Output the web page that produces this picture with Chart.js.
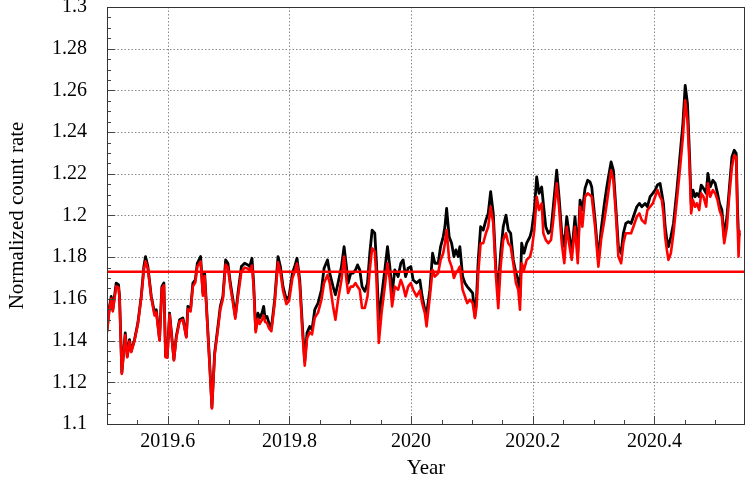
<!DOCTYPE html>
<html>
<head>
<meta charset="utf-8">
<script src="https://cdn.jsdelivr.net/npm/chart.js@4.4.1/dist/chart.umd.min.js"></script>
<style>
  html, body { margin: 0; padding: 0; background: #fff; }
  #wrap { width: 747px; height: 479px; position: relative; }
</style>
</head>
<body>
<div id="wrap"><canvas id="rate-chart"></canvas></div>
<script>
// 坐标轴范围
const xMin = 2019.5;
const xMax = 2020.549;
const yMin = 1.1;
const yMax = 1.3;
const xLabelStep = 0.2;
const yLabelStep = 0.02;

// 参考水平线
const refLevel = 1.173;

// 时间 (年)
const years = [
  2019.5000, 2019.5041, 2019.5069, 2019.5095, 2019.5151, 2019.5189, 2019.5206, 2019.5244, 2019.5300, 2019.5333,
  2019.5370, 2019.5398, 2019.5453, 2019.5507, 2019.5563, 2019.5606, 2019.5634, 2019.5672, 2019.5728, 2019.5782,
  2019.5810, 2019.5864, 2019.5902, 2019.5935, 2019.5963, 2019.5991, 2019.6029, 2019.6100, 2019.6139, 2019.6193,
  2019.6248, 2019.6304, 2019.6330, 2019.6374, 2019.6412, 2019.6452, 2019.6485, 2019.6539, 2019.6577, 2019.6605,
  2019.6633, 2019.6687, 2019.6725, 2019.6770,
  2019.6824, 2019.6863, 2019.6906, 2019.6951, 2019.6988, 2019.7028, 2019.7071, 2019.7110, 2019.7153, 2019.7209,
  2019.7263, 2019.7318, 2019.7346, 2019.7384, 2019.7411, 2019.7444, 2019.7482, 2019.7510, 2019.7548, 2019.7576,
  2019.7598, 2019.7630, 2019.7663, 2019.7703, 2019.7757, 2019.7812, 2019.7851, 2019.7894, 2019.7950, 2019.7993,
  2019.8049, 2019.8086, 2019.8124, 2019.8169, 2019.8213, 2019.8251, 2019.8289, 2019.8333, 2019.8371, 2019.8416,
  2019.8470,
  2019.8526, 2019.8569, 2019.8625, 2019.8662, 2019.8717, 2019.8756, 2019.8799, 2019.8855, 2019.8898, 2019.8937,
  2019.8964, 2019.9008, 2019.9046, 2019.9086, 2019.9119, 2019.9156, 2019.9194, 2019.9239, 2019.9283, 2019.9321,
  2019.9359, 2019.9403, 2019.9431, 2019.9469, 2019.9514, 2019.9568, 2019.9612, 2019.9650, 2019.9688, 2019.9732,
  2019.9787, 2019.9831, 2019.9869, 2019.9909, 2019.9951, 2019.9996, 2020.0034, 2020.0090, 2020.0144, 2020.0182,
  2020.0226,
  2020.0254, 2020.0309, 2020.0353, 2020.0391, 2020.0445, 2020.0485, 2020.0528, 2020.0556, 2020.0584, 2020.0626,
  2020.0666, 2020.0704, 2020.0737, 2020.0774, 2020.0802, 2020.0847, 2020.0885, 2020.0923, 2020.0967, 2020.1012,
  2020.1049, 2020.1077, 2020.1104, 2020.1143, 2020.1186, 2020.1230, 2020.1268, 2020.1308, 2020.1351, 2020.1395,
  2020.1433, 2020.1472, 2020.1515, 2020.1560, 2020.1598, 2020.1637, 2020.1680, 2020.1724, 2020.1762, 2020.1790,
  2020.1818, 2020.1856, 2020.1900, 2020.1955,
  2020.1983, 2020.2026, 2020.2065, 2020.2103, 2020.2147, 2020.2174, 2020.2214, 2020.2256, 2020.2301, 2020.2338,
  2020.2394, 2020.2432, 2020.2477, 2020.2519, 2020.2559, 2020.2597, 2020.2641, 2020.2695, 2020.2740, 2020.2778,
  2020.2816, 2020.2860, 2020.2904, 2020.2942, 2020.2970, 2020.3025, 2020.3079, 2020.3124, 2020.3178, 2020.3218,
  2020.3255, 2020.3288, 2020.3326, 2020.3366, 2020.3408, 2020.3453, 2020.3490, 2020.3530, 2020.3573, 2020.3617,
  2020.3655, 2020.3711, 2020.3754, 2020.3793, 2020.3848, 2020.3885, 2020.3930, 2020.3974, 2020.4012, 2020.4050,
  2020.4094, 2020.4122, 2020.4149, 2020.4177, 2020.4205, 2020.4231, 2020.4271, 2020.4314, 2020.4370, 2020.4424,
  2020.4469, 2020.4507, 2020.4544, 2020.4577, 2020.4605, 2020.4633, 2020.4671, 2020.4699, 2020.4737, 2020.4770,
  2020.4807, 2020.4852, 2020.4880, 2020.4918, 2020.4962, 2020.5000, 2020.5038, 2020.5071, 2020.5110, 2020.5148,
  2020.5193, 2020.5230, 2020.5275, 2020.5313, 2020.5346, 2020.5367, 2020.5384, 2020.5400
];

// 黑线
const blackRate = [
  1.1452, 1.1564, 1.1612, 1.1548, 1.1676, 1.1668, 1.1612, 1.1246, 1.1437, 1.1325,
  1.1405, 1.1349, 1.1405, 1.1484, 1.1612, 1.1755, 1.1803, 1.1755, 1.1612, 1.1532,
  1.1548, 1.1405, 1.1659, 1.1676, 1.1325, 1.1325, 1.1532, 1.1309, 1.1420, 1.1500,
  1.1508, 1.1420, 1.1564, 1.1548, 1.1676, 1.1691, 1.1771, 1.1803, 1.1628, 1.1724,
  1.1580, 1.1293, 1.1080, 1.1340,
  1.1468, 1.1564, 1.1612, 1.1787, 1.1771, 1.1676, 1.1596, 1.1516, 1.1628, 1.1755,
  1.1771, 1.1763, 1.1755, 1.1795, 1.1676, 1.1452, 1.1532, 1.1508, 1.1532, 1.1564,
  1.1508, 1.1516, 1.1484, 1.1461, 1.1596, 1.1803, 1.1755, 1.1659, 1.1596, 1.1612,
  1.1724, 1.1755, 1.1795, 1.1691, 1.1468, 1.1300, 1.1437, 1.1468, 1.1452, 1.1548,
  1.1580,
  1.1644, 1.1747, 1.1787, 1.1724, 1.1659, 1.1620, 1.1676, 1.1755, 1.1851, 1.1755,
  1.1676, 1.1724, 1.1724, 1.1739, 1.1763, 1.1739, 1.1659, 1.1636, 1.1676, 1.1819,
  1.1930, 1.1915, 1.1771, 1.1500, 1.1612, 1.1739, 1.1851, 1.1755, 1.1628, 1.1739,
  1.1707, 1.1771, 1.1787, 1.1707, 1.1747, 1.1755, 1.1691, 1.1676, 1.1691, 1.1612,
  1.1548,
  1.1524, 1.1644, 1.1819, 1.1771, 1.1771, 1.1851, 1.1898, 1.1946, 1.2034, 1.1898,
  1.1867, 1.1803, 1.1835, 1.1803, 1.1851, 1.1707, 1.1676, 1.1659, 1.1644, 1.1628,
  1.1516, 1.1612, 1.1787, 1.1946, 1.1930, 1.1978, 1.2010, 1.2114, 1.2010, 1.1739,
  1.1659, 1.1819, 1.1946, 1.2002, 1.1930, 1.1915, 1.1787, 1.1724, 1.1691, 1.1612,
  1.1867, 1.1819, 1.1867, 1.1898,
  1.1930, 1.2026, 1.2185, 1.2106, 1.2137, 1.2058, 1.1946, 1.1915, 1.1930, 1.2042,
  1.2217, 1.2090, 1.1915, 1.1851, 1.1994, 1.1915, 1.1819, 1.1994, 1.1819, 1.2074,
  1.2026, 1.2130, 1.2169, 1.2161, 1.2137, 1.1978, 1.1787, 1.1930, 1.2058, 1.2137,
  1.2202, 1.2257, 1.2217, 1.2042, 1.1851, 1.1819, 1.1915, 1.1962, 1.1970, 1.1962,
  1.1994, 1.2042, 1.2058, 1.2042, 1.2058, 1.2042, 1.2090, 1.2106, 1.2122, 1.2146,
  1.2154, 1.2106, 1.2058, 1.1946, 1.1883, 1.1851, 1.1898, 1.1962, 1.2122, 1.2297,
  1.2441, 1.2624, 1.2536, 1.2297, 1.2058, 1.2122, 1.2090, 1.2106, 1.2090, 1.2146,
  1.2130, 1.2106, 1.2202, 1.2137, 1.2169, 1.2154, 1.2106, 1.2058, 1.2026, 1.1898,
  1.1994, 1.2122, 1.2281, 1.2313, 1.2297, 1.2026, 1.1898, 1.1915
];

// 红线
const redRate = [
  1.1440, 1.1555, 1.1600, 1.1540, 1.1660, 1.1655, 1.1605, 1.1240, 1.1425, 1.1320,
  1.1395, 1.1345, 1.1400, 1.1478, 1.1605, 1.1740, 1.1780, 1.1745, 1.1605, 1.1520,
  1.1535, 1.1400, 1.1650, 1.1665, 1.1320, 1.1318, 1.1525, 1.1305, 1.1412, 1.1492,
  1.1500, 1.1415, 1.1550, 1.1540, 1.1660, 1.1680, 1.1755, 1.1780, 1.1615, 1.1710,
  1.1570, 1.1285, 1.1075, 1.1330,
  1.1455, 1.1550, 1.1600, 1.1765, 1.1750, 1.1660, 1.1580, 1.1505, 1.1610, 1.1730,
  1.1750, 1.1745, 1.1735, 1.1760, 1.1655, 1.1440, 1.1505, 1.1480, 1.1500, 1.1520,
  1.1490, 1.1485, 1.1460, 1.1445, 1.1580, 1.1775, 1.1730, 1.1640, 1.1575, 1.1590,
  1.1700, 1.1730, 1.1770, 1.1670, 1.1440, 1.1280, 1.1410, 1.1440, 1.1430, 1.1510,
  1.1534,
  1.1596, 1.1676, 1.1715, 1.1676, 1.1564, 1.1500, 1.1596, 1.1691, 1.1803, 1.1691,
  1.1628, 1.1659, 1.1659, 1.1676, 1.1659, 1.1644, 1.1556, 1.1556, 1.1612, 1.1739,
  1.1843, 1.1827, 1.1691, 1.1389, 1.1532, 1.1659, 1.1771, 1.1691, 1.1564, 1.1659,
  1.1644, 1.1691, 1.1660, 1.1612, 1.1659, 1.1676, 1.1644, 1.1612, 1.1640, 1.1580,
  1.1532,
  1.1468, 1.1612, 1.1739, 1.1707, 1.1724, 1.1787, 1.1819, 1.1867, 1.1930, 1.1787,
  1.1755, 1.1700, 1.1724, 1.1739, 1.1755, 1.1644, 1.1612, 1.1580, 1.1596, 1.1580,
  1.1508, 1.1564, 1.1724, 1.1867, 1.1867, 1.1915, 1.1946, 1.2042, 1.1962, 1.1707,
  1.1556, 1.1755, 1.1883, 1.1915, 1.1867, 1.1851, 1.1771, 1.1676, 1.1644, 1.1548,
  1.1771, 1.1739, 1.1787, 1.1803,
  1.1835, 1.1930, 1.2090, 1.2026, 1.2058, 1.1915, 1.1883, 1.1867, 1.1883, 1.1978,
  1.2154, 1.2042, 1.1867, 1.1771, 1.1946, 1.1867, 1.1787, 1.1946, 1.1771, 1.2042,
  1.1946, 1.2090, 1.2106, 1.2098, 1.2090, 1.1946, 1.1755, 1.1883, 1.1978, 1.2058,
  1.2137, 1.2217, 1.2169, 1.2010, 1.1803, 1.1771, 1.1867, 1.1915, 1.1915, 1.1915,
  1.1946, 1.1994, 1.2010, 1.1978, 1.1962, 1.2026, 1.2042, 1.2058, 1.2090, 1.2122,
  1.2090, 1.2074, 1.2010, 1.1898, 1.1835, 1.1787, 1.1819, 1.1915, 1.2074, 1.2233,
  1.2377, 1.2552, 1.2456, 1.2249, 1.2010, 1.2074, 1.2042, 1.2058, 1.2026, 1.2106,
  1.2090, 1.2042, 1.2154, 1.2090, 1.2122, 1.2106, 1.2074, 1.2026, 1.1994, 1.1867,
  1.1946, 1.2090, 1.2233, 1.2289, 1.2281, 1.1978, 1.1803, 1.1930
];

function onStep(v, step) {
  const k = v / step;
  return Math.abs(k - Math.round(k)) < 1e-6;
}
function inside(v, lo, hi) {
  return v > lo + 1e-9 && v < hi - 1e-9;
}

// 网格线、内向刻度和边框
const axisDecor = {
  id: 'axisDecor',
  beforeDatasetsDraw(chart) {
    const { ctx, chartArea: a, scales: { x, y } } = chart;
    ctx.save();
    ctx.strokeStyle = '#8a8a8a';
    ctx.lineWidth = 1;
    ctx.setLineDash([1.5, 2]);
    x.ticks.forEach(t => {
      if (!onStep(t.value, xLabelStep) || !inside(t.value, xMin, xMax)) return;
      const px = Math.round(x.getPixelForValue(t.value)) + 0.5;
      ctx.beginPath();
      ctx.moveTo(px, a.top);
      ctx.lineTo(px, a.bottom);
      ctx.stroke();
    });
    y.ticks.forEach(t => {
      if (!onStep(t.value, yLabelStep) || !inside(t.value, yMin, yMax)) return;
      const py = Math.round(y.getPixelForValue(t.value)) + 0.5;
      ctx.beginPath();
      ctx.moveTo(a.left, py);
      ctx.lineTo(a.right, py);
      ctx.stroke();
    });
    ctx.restore();
  },
  afterDatasetsDraw(chart) {
    const { ctx, chartArea: a, scales: { x, y } } = chart;
    ctx.save();
    ctx.strokeStyle = '#444';
    ctx.lineWidth = 1;
    ctx.beginPath();
    x.ticks.forEach(t => {
      const px = Math.round(x.getPixelForValue(t.value)) + 0.5;
      const len = onStep(t.value, xLabelStep) ? 8 : 4;
      ctx.moveTo(px, a.bottom);
      ctx.lineTo(px, a.bottom - len);
    });
    y.ticks.forEach(t => {
      const py = Math.round(y.getPixelForValue(t.value)) + 0.5;
      const len = onStep(t.value, yLabelStep) ? 8 : 4;
      ctx.moveTo(a.left, py);
      ctx.lineTo(a.left + len, py);
    });
    ctx.stroke();
    ctx.strokeStyle = '#333';
    ctx.strokeRect(Math.round(a.left) + 0.5, Math.round(a.top) + 0.5,
      Math.round(a.right - a.left) - 1, Math.round(a.bottom - a.top));
    ctx.restore();
  }
};

const serif = 'Liberation Serif, Times New Roman, serif';

const ctx = document.getElementById('rate-chart').getContext('2d');
new Chart(ctx, {
  type: 'line',
  data: {
    datasets: [
      {
        label: 'ref',
        data: [{ x: xMin, y: refLevel }, { x: xMax, y: refLevel }],
        borderColor: '#ff0000',
        borderWidth: 2.5,
        pointRadius: 0,
        clip: 0,
        order: 0
      },
      {
        label: 'red',
        data: years.map((t, i) => ({ x: t, y: redRate[i] })),
        borderColor: '#ff0000',
        borderWidth: 2.6,
        borderJoinStyle: 'round',
        pointRadius: 0,
        tension: 0,
        clip: 0,
        order: 1
      },
      {
        label: 'black',
        data: years.map((t, i) => ({ x: t, y: blackRate[i] })),
        borderColor: '#000000',
        borderWidth: 2.8,
        borderJoinStyle: 'round',
        pointRadius: 0,
        tension: 0,
        clip: 0,
        order: 2
      }
    ]
  },
  options: {
    responsive: true,
    maintainAspectRatio: false,
    animation: false,
    layout: { padding: { top: 7, right: 2, bottom: 0, left: 0 } },
    plugins: { legend: { display: false }, tooltip: { enabled: false } },
    scales: {
      x: {
        type: 'linear',
        min: xMin,
        max: xMax,
        grid: { display: false, drawTicks: false },
        border: { display: false },
        ticks: {
          stepSize: 0.05,
          includeBounds: false,
          autoSkip: false,
          maxRotation: 0,
          padding: 6,
          color: '#000',
          font: { family: serif, size: 20 },
          callback: v => (onStep(v, xLabelStep) && inside(v, xMin, xMax)) ? String(+v.toFixed(1)) : ''
        },
        title: {
          display: true,
          text: 'Year',
          color: '#000',
          font: { family: serif, size: 21, lineHeight: 1 },
          padding: { top: 0, bottom: 0 }
        },
        afterFit(scale) {
          scale.height = 55;
          scale.paddingLeft = 0;
          scale.paddingRight = 0;
        }
      },
      y: {
        min: yMin,
        max: yMax,
        grid: { display: false, drawTicks: false },
        border: { display: false },
        ticks: {
          stepSize: 0.005,
          includeBounds: false,
          autoSkip: false,
          padding: 20,
          color: '#000',
          font: { family: serif, size: 20 },
          callback: v => onStep(v, yLabelStep) ? String(+v.toFixed(2)) : ''
        },
        title: {
          display: true,
          text: 'Normalized count rate',
          color: '#000',
          font: { family: serif, size: 21, lineHeight: 1 },
          padding: { top: 7, bottom: 0 }
        },
        afterFit(scale) {
          scale.width = 107;
          scale.paddingTop = 0;
          scale.paddingBottom = 0;
        }
      }
    }
  },
  plugins: [axisDecor]
});
</script>
</body>
</html>
